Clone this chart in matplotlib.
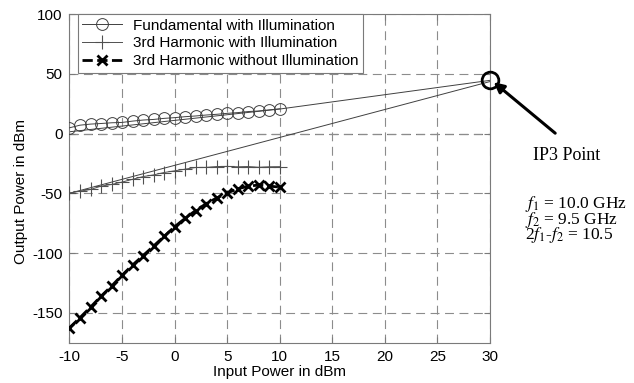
import numpy as np
import matplotlib
matplotlib.use('Agg')
import matplotlib.pyplot as plt

plt.rcParams['font.family'] = ['Liberation Sans', 'DejaVu Sans']
plt.rcParams['mathtext.fontset'] = 'stix'
plt.rcParams['axes.unicode_minus'] = False

# measured data (dBm)
p_in = [-10, -9, -8, -7, -6, -5, -4, -3, -2, -1, 0, 1, 2, 3, 4, 5, 6, 7, 8, 9, 10]
fund_illum = [4.8, 7.0, 7.9, 8.4, 9.0, 9.3, 10.4, 11.3, 11.8, 12.7, 13.3,
              14.1, 14.7, 15.5, 16.1, 16.9, 17.5, 18.4, 18.9, 19.8, 20.7]
h3_illum = [-49.7, -48.2, -46.8, -44.0, -42.6, -40.6, -38.3, -36.0, -34.6, -32.6, -31.2,
            -29.8, -28.4, -28.3, -27.6, -27.5, -27.8, -27.6, -28.2, -27.8, -27.7]
h3_dark = [-162.5, -154.0, -145.2, -136.1, -127.6, -118.5, -110.0, -102.1, -94.1, -86.0, -78.0,
           -70.9, -64.4, -58.7, -53.9, -49.7, -46.3, -44.0, -43.1, -44.0, -44.8]

# extrapolated lines toward the intercept point
fund_fit_x = [-10, 10, 30]
fund_fit_y = [1.5, 20.5, 44.5]
h3_fit_x = [-10, 30]
h3_fit_y = [-50, 43.5]
ip3 = (30, 44.5)

fig = plt.figure(figsize=(6.34, 3.83), dpi=100)
ax = fig.add_axes([0.1096, 0.1052, 0.6633, 0.8582])

ax.plot(fund_fit_x, fund_fit_y, '-', color='#404040', lw=0.7, zorder=2)
ax.plot(h3_fit_x, h3_fit_y, '-', color='#404040', lw=0.7, zorder=2)

ax.plot(p_in, fund_illum, '-o', color='#404040', lw=0.7, ms=8.5, mfc='none',
        mec='#404040', mew=0.7, label='Fundamental with Illumination', zorder=3)
ax.plot(p_in, h3_illum, '-+', color='#505050', lw=0.7, ms=10, mew=0.8,
        label='3rd Harmonic with Illumination', zorder=3)
ax.plot(p_in, h3_dark, '--x', color='black', lw=2, ms=7, mew=2,
        label='3rd Harmonic without Illumination', zorder=3)

ax.axhline(0, color='black', lw=0.8, ls=(0, (8, 5)), zorder=1)

# IP3 marker and annotation
ax.plot(ip3[0], ip3[1], 'o', ms=12, mfc='none', mec='black', mew=2,
        clip_on=False, zorder=5)
ax.annotate('', xy=(30.35, 43.0), xytext=(36.2, 0.3),
            arrowprops=dict(arrowstyle='-|>,head_length=0.6,head_width=0.3',
                            color='black', lw=2.2, shrinkA=0, shrinkB=0),
            annotation_clip=False)
fig.text(566.7 / 634, 1 - 155 / 383, 'IP3 Point', family='Liberation Serif',
         fontsize=13, ha='center', va='center')
fig.text(525 / 634, 1 - 204 / 383, r'$f_1$ = 10.0 GHz', family='Liberation Serif',
         fontsize=12.5, ha='left', va='center')
fig.text(525 / 634, 1 - 219.5 / 383, r'$f_2$ = 9.5 GHz', family='Liberation Serif',
         fontsize=12.5, ha='left', va='center')
fig.text(525 / 634, 1 - 235 / 383, r'2$f_1$-$f_2$ = 10.5', family='Liberation Serif',
         fontsize=12.5, ha='left', va='center')

ax.set_xlim(-10, 30)
ax.set_ylim(-175, 100)
ax.set_xticks([-10, -5, 0, 5, 10, 15, 20, 25, 30])
ax.set_yticks([-150, -100, -50, 0, 50, 100])
ax.grid(True, color='#8c8c8c', ls=(0, (8, 5)), lw=0.8)
for s in ax.spines.values():
    s.set_color('#7a7a7a')
    s.set_linewidth(0.8)
ax.tick_params(direction='in', top=True, right=True, color='#7a7a7a',
               labelsize=11, length=4, pad=5)
ax.set_xlabel('Input Power in dBm', fontsize=11)
ax.set_ylabel('Output Power in dBm', fontsize=11)
ax.xaxis.set_label_coords(0.5, -0.068)
ax.yaxis.set_label_coords(-0.099, 0.46)

leg = ax.legend(loc='upper left', bbox_to_anchor=(0.02, 1.0), fontsize=11,
                fancybox=False, framealpha=1, edgecolor='#7a7a7a',
                handlelength=2.6, borderpad=0.3, labelspacing=0.25,
                handletextpad=0.7, borderaxespad=0.0)
leg.get_frame().set_linewidth(0.8)

fig.savefig('out.png', dpi=100)
